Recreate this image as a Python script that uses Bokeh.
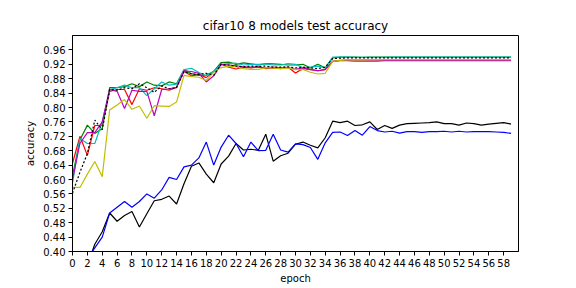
from bokeh.plotting import figure
from bokeh.models import FixedTicker, Range1d, PrintfTickFormatter
from bokeh.embed import file_html
from bokeh.resources import INLINE

epochs = list(range(60))

black = [0.28, 0.32, 0.363, 0.42, 0.455, 0.507, 0.484, 0.50, 0.511, 0.468,
         0.505, 0.541, 0.545, 0.554, 0.532, 0.588, 0.637, 0.646, 0.615, 0.591,
         0.643, 0.665, 0.70, 0.682, 0.684, 0.681, 0.726, 0.651, 0.666, 0.673,
         0.698, 0.704, 0.695, 0.688, 0.716, 0.762, 0.758, 0.762, 0.750, 0.752,
         0.760, 0.739, 0.750, 0.742, 0.751, 0.755, 0.756, 0.757, 0.758, 0.760,
         0.755, 0.755, 0.751, 0.757, 0.755, 0.751, 0.754, 0.756, 0.758, 0.754]

blue = [0.30, 0.34, 0.38, 0.41, 0.44, 0.507, 0.523, 0.539, 0.523, 0.539,
        0.560, 0.548, 0.571, 0.606, 0.600, 0.635, 0.640, 0.660, 0.704, 0.640,
        0.690, 0.723, 0.700, 0.663, 0.704, 0.680, 0.681, 0.726, 0.682, 0.676,
        0.699, 0.697, 0.689, 0.656, 0.702, 0.731, 0.732, 0.722, 0.736, 0.723,
        0.747, 0.736, 0.732, 0.734, 0.729, 0.733, 0.733, 0.731, 0.733, 0.733,
        0.734, 0.732, 0.734, 0.732, 0.733, 0.733, 0.733, 0.732, 0.731, 0.728]

red = [0.645, 0.72, 0.667, 0.75, 0.75, 0.845, 0.85, 0.85, 0.808, 0.852,
       0.848, 0.855, 0.852, 0.848, 0.856, 0.900, 0.888, 0.892, 0.883, 0.900,
       0.920, 0.912, 0.907, 0.912, 0.910, 0.913, 0.908, 0.910, 0.908, 0.912,
       0.896, 0.908, 0.906, 0.902, 0.905, 0.928, 0.931, 0.932, 0.932, 0.932,
       0.932, 0.932, 0.933, 0.932, 0.933, 0.933, 0.933, 0.933, 0.933, 0.933,
       0.933, 0.933, 0.933, 0.933, 0.933, 0.933, 0.933, 0.933, 0.933, 0.933]

green = [0.61, 0.71, 0.751, 0.728, 0.742, 0.855, 0.855, 0.858, 0.866, 0.858,
         0.871, 0.862, 0.860, 0.871, 0.866, 0.905, 0.894, 0.889, 0.890, 0.900,
         0.925, 0.926, 0.920, 0.924, 0.921, 0.918, 0.922, 0.921, 0.920, 0.918,
         0.918, 0.920, 0.910, 0.920, 0.910, 0.938, 0.940, 0.940, 0.940, 0.939,
         0.940, 0.940, 0.940, 0.940, 0.940, 0.940, 0.940, 0.940, 0.940, 0.940,
         0.940, 0.940, 0.940, 0.940, 0.940, 0.940, 0.940, 0.940, 0.940, 0.940]

cyan = [0.59, 0.714, 0.70, 0.70, 0.76, 0.85, 0.855, 0.862, 0.855, 0.855,
        0.833, 0.852, 0.871, 0.862, 0.865, 0.905, 0.909, 0.897, 0.888, 0.900,
        0.920, 0.922, 0.923, 0.918, 0.920, 0.920, 0.921, 0.918, 0.918, 0.922,
        0.920, 0.910, 0.912, 0.915, 0.910, 0.940, 0.940, 0.940, 0.939, 0.939,
        0.939, 0.939, 0.939, 0.940, 0.940, 0.940, 0.940, 0.940, 0.940, 0.940,
        0.940, 0.940, 0.940, 0.940, 0.940, 0.940, 0.940, 0.940, 0.940, 0.940]

magenta = [0.60, 0.70, 0.73, 0.73, 0.76, 0.85, 0.845, 0.797, 0.848, 0.845,
           0.845, 0.777, 0.850, 0.852, 0.856, 0.902, 0.900, 0.895, 0.871, 0.888,
           0.920, 0.918, 0.916, 0.913, 0.912, 0.912, 0.910, 0.912, 0.910, 0.911,
           0.906, 0.910, 0.905, 0.902, 0.906, 0.928, 0.930, 0.930, 0.929, 0.929,
           0.929, 0.929, 0.930, 0.930, 0.930, 0.930, 0.930, 0.930, 0.930, 0.930,
           0.930, 0.930, 0.930, 0.930, 0.930, 0.930, 0.930, 0.930, 0.930, 0.930]

yellow = [0.578, 0.578, 0.615, 0.65, 0.608, 0.793, 0.807, 0.822, 0.795, 0.804,
          0.770, 0.805, 0.804, 0.803, 0.815, 0.889, 0.886, 0.884, 0.875, 0.898,
          0.911, 0.914, 0.913, 0.908, 0.906, 0.906, 0.910, 0.910, 0.908, 0.910,
          0.905, 0.906, 0.898, 0.893, 0.895, 0.928, 0.931, 0.932, 0.932, 0.932,
          0.933, 0.933, 0.933, 0.933, 0.933, 0.933, 0.933, 0.933, 0.933, 0.933,
          0.933, 0.933, 0.933, 0.933, 0.933, 0.933, 0.933, 0.933, 0.933, 0.933]

dotted = [0.562, 0.62, 0.672, 0.765, 0.738, 0.85, 0.848, 0.855, 0.852, 0.866,
          0.855, 0.842, 0.860, 0.852, 0.855, 0.900, 0.893, 0.892, 0.895, 0.890,
          0.920, 0.918, 0.915, 0.913, 0.915, 0.914, 0.915, 0.912, 0.912, 0.913,
          0.910, 0.912, 0.910, 0.908, 0.912, 0.936, 0.937, 0.938, 0.938, 0.938,
          0.938, 0.938, 0.938, 0.938, 0.938, 0.938, 0.938, 0.938, 0.938, 0.938,
          0.938, 0.938, 0.938, 0.938, 0.938, 0.938, 0.938, 0.938, 0.938, 0.938]

x_ticks = [0, 2, 4, 6, 8, 10, 12, 14, 16, 18, 20, 22, 24, 26, 28, 30, 32, 34,
           36, 38, 40, 42, 44, 46, 48, 50, 52, 54, 56, 58]
y_ticks = [0.40, 0.44, 0.48, 0.52, 0.56, 0.60, 0.64, 0.68, 0.72, 0.76, 0.80,
           0.84, 0.88, 0.92, 0.96]

FONT = "DejaVu Sans"

p = figure(width=572, height=286, output_backend="svg", toolbar_location=None,
           x_range=Range1d(0, 60), y_range=Range1d(0.40, 1.00),
           title="cifar10 8 models test accuracy",
           min_border_left=72, min_border_right=54, min_border_top=35,
           min_border_bottom=34)

p.title.align = "center"
p.title.text_font = FONT
p.title.text_font_size = "12px"
p.title.text_font_style = "normal"
p.title.text_color = "black"
p.title.standoff = 5

p.grid.visible = False
p.outline_line_color = "black"
p.outline_line_width = 1
p.background_fill_color = "white"
p.border_fill_color = "white"

for ax in (p.xaxis[0], p.yaxis[0]):
    ax.major_label_text_font = FONT
    ax.major_label_text_font_size = "10px"
    ax.major_label_text_color = "black"
    ax.axis_label_text_font = FONT
    ax.axis_label_text_font_size = "10px"
    ax.axis_label_text_font_style = "normal"
    ax.axis_label_text_color = "black"
    ax.major_tick_out = 4
    ax.major_tick_in = 0
    ax.minor_tick_out = 0
    ax.minor_tick_in = 0
    ax.axis_line_color = "black"
    ax.major_tick_line_color = "black"
    ax.major_label_standoff = 3

p.xaxis.ticker = FixedTicker(ticks=x_ticks)
p.yaxis.ticker = FixedTicker(ticks=y_ticks)
p.yaxis.formatter = PrintfTickFormatter(format="%.2f")
p.xaxis.axis_label = "epoch"
p.yaxis.axis_label = "accuracy"
p.xaxis.axis_label_standoff = 3
p.yaxis.axis_label_standoff = 4

LW = 1.2
p.line(epochs, black, line_color="black", line_width=LW)
p.line(epochs, blue, line_color="#0000ff", line_width=LW)
p.line(epochs, red, line_color="#ff0000", line_width=LW)
p.line(epochs, green, line_color="#008000", line_width=LW)
p.line(epochs, cyan, line_color="#00bfbf", line_width=LW)
p.line(epochs, magenta, line_color="#bf00bf", line_width=LW)
p.line(epochs, yellow, line_color="#bfbf00", line_width=LW)
p.line(epochs, dotted, line_color="black", line_width=LW, line_dash="2 2")

open("out.html", "w").write(file_html(p, INLINE))
